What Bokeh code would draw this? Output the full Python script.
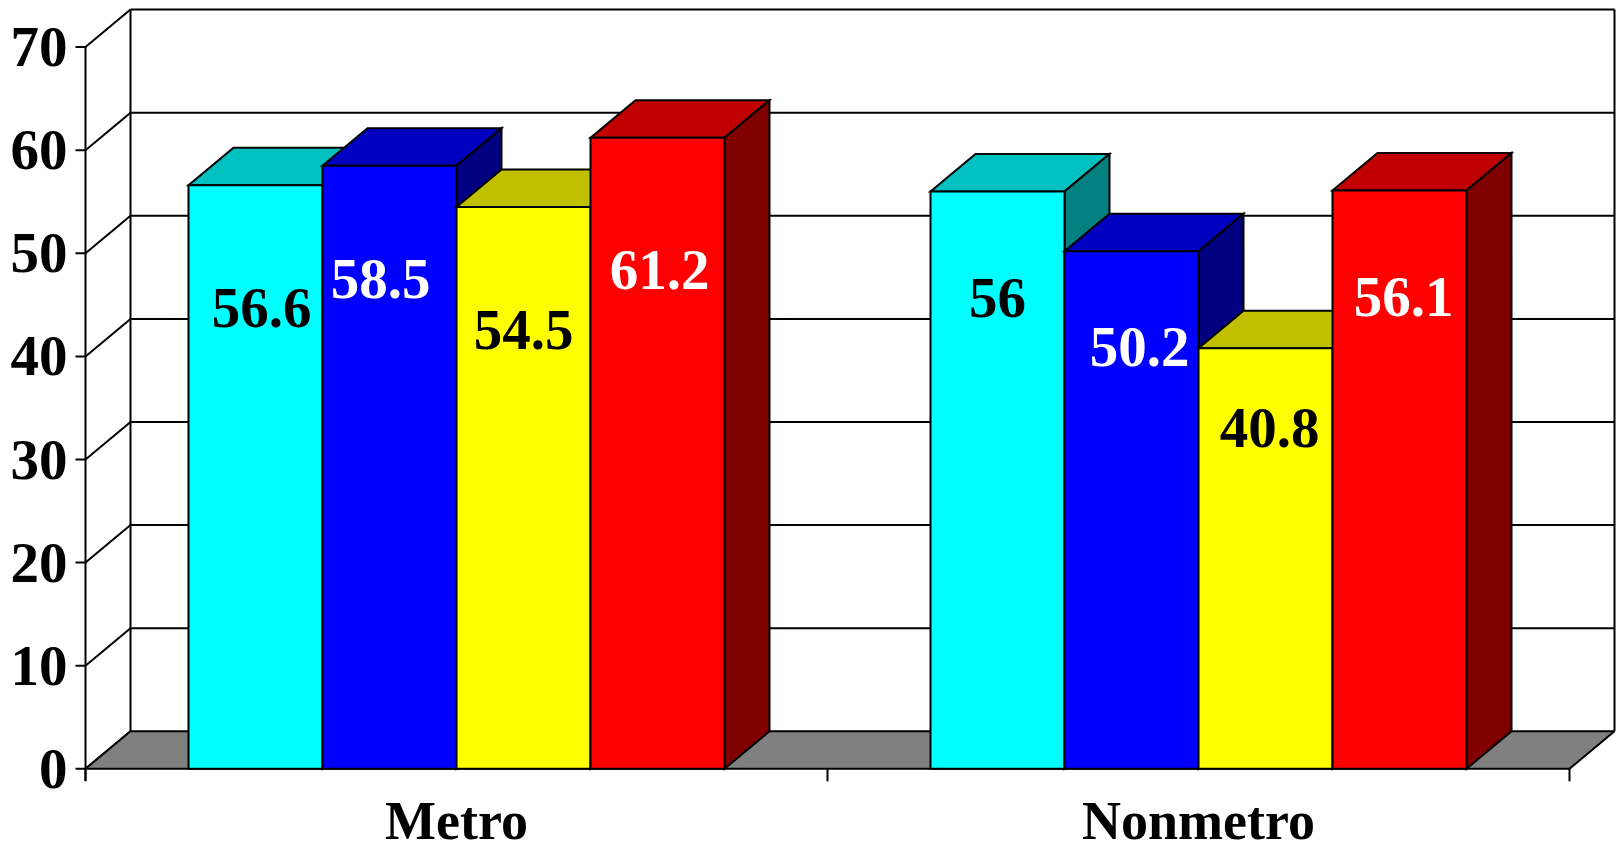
from bokeh.plotting import figure
from bokeh.models import Range1d, ColumnDataSource
from bokeh.core.properties import value
from bokeh.embed import file_html
from bokeh.resources import INLINE

# ---------------- data ----------------
categories = ["Metro", "Nonmetro"]
metro = [56.6, 58.5, 54.5, 61.2]
nonmetro = [56.0, 50.2, 40.8, 56.1]
metro_text = ["56.6", "58.5", "54.5", "61.2"]
nonmetro_text = ["56", "50.2", "40.8", "56.1"]
y_ticks = [0, 10, 20, 30, 40, 50, 60, 70]
y_tick_labels = ["0", "10", "20", "30", "40", "50", "60", "70"]

# ---------------- styles / layout ----------------
front_colors = ["#00FFFF", "#0000FF", "#FFFF00", "#FF0000"]
top_colors = ["#00C0C0", "#0000C0", "#C0C000", "#C00000"]
side_colors = ["#008080", "#000080", "#808000", "#800000"]
label_colors = ["black", "white", "black", "white"]
# label placement (value-axis units) and small pixel nudges, as in the original
label_y_metro = [44.7, 47.5, 42.6, 48.4]
label_y_nonmetro = [45.7, 40.9, 33.1, 45.8]
label_dx_metro = [6, -9, 0, 2]
label_dx_nonmetro = [0, 8, 4, 4]

W, H = 1616, 851
X0 = 85.0        # px of front value axis
CAT_PX = 742.0   # px per category
Y0 = 768.3       # px of value 0 on the front plane
UNIT_PX = 10.31  # px per value unit
DX = 45.0 / CAT_PX
DY = 37.5 / UNIT_PX
BW = 134.0 / CAT_PX
FONT = value("Liberation Serif")
YMAX = 70

p = figure(width=W, height=H, output_backend="svg", toolbar_location=None,
           x_axis_type=None, y_axis_type=None, min_border=0,
           x_range=Range1d(-X0 / CAT_PX, (W - X0) / CAT_PX),
           y_range=Range1d(-(H - Y0) / UNIT_PX, Y0 / UNIT_PX))
p.outline_line_color = None
p.background_fill_color = "white"
p.border_fill_color = "white"
p.grid.visible = False

n_cat = len(categories)
LW = 2

# back wall gridlines
p.multi_line(xs=[[DX, n_cat + DX] for v in y_ticks[1:]],
             ys=[[v + DY, v + DY] for v in y_ticks[1:]],
             line_color="black", line_width=LW)
# back wall verticals
p.multi_line(xs=[[DX, DX], [n_cat + DX, n_cat + DX]],
             ys=[[DY, YMAX + DY], [DY, YMAX + DY]],
             line_color="black", line_width=LW)
# side wall diagonals
p.multi_line(xs=[[0, DX] for v in y_ticks],
             ys=[[v, v + DY] for v in y_ticks],
             line_color="black", line_width=LW)
# front value axis line
p.line(x=[0, 0], y=[-12.0 / UNIT_PX, YMAX], line_color="black", line_width=LW)
# value ticks
p.multi_line(xs=[[-10.0 / CAT_PX, 0] for v in y_ticks],
             ys=[[v, v] for v in y_ticks],
             line_color="black", line_width=LW)
# floor
p.patch(x=[0, n_cat, n_cat + DX, DX], y=[0, 0, DY, DY],
        fill_color="#808080", line_color="black", line_width=LW)
# category ticks
p.multi_line(xs=[[i, i] for i in range(n_cat + 1)],
             ys=[[0, -12.5 / UNIT_PX] for i in range(n_cat + 1)],
             line_color="black", line_width=LW)

# bars (painter's order: left to right, top, side, front)
xs, ys, fills = [], [], []
lx, ly, ltxt, lcol, ldx = [], [], [], [], []
groups = [(metro, metro_text, label_y_metro, label_dx_metro),
          (nonmetro, nonmetro_text, label_y_nonmetro, label_dx_nonmetro)]
for ci, (vals, txts, lys, ldxs) in enumerate(groups):
    start = ci + 0.5 - len(vals) * BW / 2
    for si, v in enumerate(vals):
        l = start + si * BW
        r = l + BW
        # top face
        xs.append([l, r, r + DX, l + DX]); ys.append([v, v, v + DY, v + DY])
        fills.append(top_colors[si])
        # side face
        xs.append([r, r + DX, r + DX, r]); ys.append([0, DY, v + DY, v])
        fills.append(side_colors[si])
        # front face
        xs.append([l, r, r, l]); ys.append([0, 0, v, v])
        fills.append(front_colors[si])
        lx.append((l + r) / 2); ly.append(lys[si]); ltxt.append(txts[si])
        lcol.append(label_colors[si]); ldx.append(ldxs[si])

p.patches(xs="xs", ys="ys", fill_color="fill",
          source=ColumnDataSource(dict(xs=xs, ys=ys, fill=fills)),
          line_color="black", line_width=LW, line_join="miter")

p.text(x="x", y="y", text="t", text_color="c", x_offset="dx",
       source=ColumnDataSource(dict(x=lx, y=ly, t=ltxt, c=lcol, dx=ldx)),
       text_font=FONT, text_font_style="bold", text_font_size="57px",
       text_align="center", text_baseline="middle")

# value tick labels
p.text(x=[-18.0 / CAT_PX] * len(y_ticks), y=y_ticks, text=y_tick_labels,
       text_font=FONT, text_font_style="bold", text_font_size="57px",
       text_align="right", text_baseline="middle", text_color="black")

# category labels
p.text(x=[i + 0.5 for i in range(n_cat)], y=[-52.5 / UNIT_PX] * n_cat, text=categories,
       text_font=FONT, text_font_style="bold", text_font_size="54px",
       text_align="center", text_baseline="middle", text_color="black")

open("out.html", "w").write(file_html(p, INLINE))
